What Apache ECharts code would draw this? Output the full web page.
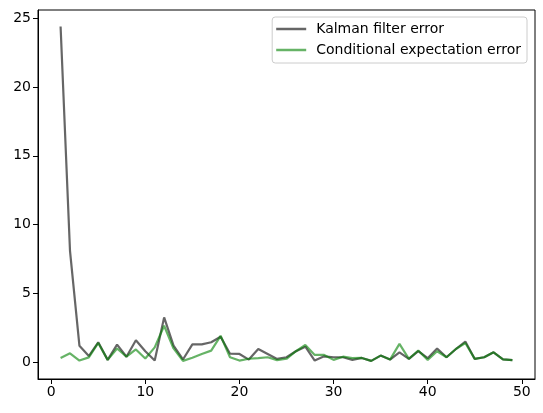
<!DOCTYPE html>
<html>
<head>
<meta charset="utf-8">
<script src="https://cdn.jsdelivr.net/npm/echarts@6/dist/echarts.min.js"></script>
<style>
  html, body { margin: 0; padding: 0; background: #fff; }
  #chart { width: 543px; height: 413px; }
</style>
</head>
<body>
<div id="chart"></div>
<script>
// step index 1..49
var steps = [];
for (var i = 1; i <= 49; i++) steps.push(i);

var kalmanErr = [24.4, 8.1, 1.2, 0.45, 1.45, 0.17, 1.28, 0.4, 1.6, 0.8,
  0.12, 3.26, 1.2, 0.2, 1.3, 1.3, 1.45, 1.85, 0.62, 0.6,
  0.19, 0.96, 0.6, 0.24, 0.36, 0.8, 1.13, 0.12, 0.43, 0.36,
  0.36, 0.17, 0.31, 0.1, 0.48, 0.19, 0.72, 0.24, 0.8, 0.29,
  1.0, 0.36, 0.96, 1.5, 0.24, 0.36, 0.72, 0.2, 0.15];

var condErr = [0.31, 0.65, 0.12, 0.35, 1.4, 0.17, 1.0, 0.4, 0.93, 0.27,
  1.08, 2.65, 1.0, 0.1, 0.33, 0.6, 0.84, 1.92, 0.36, 0.12,
  0.25, 0.3, 0.36, 0.15, 0.25, 0.8, 1.25, 0.53, 0.53, 0.17,
  0.4, 0.3, 0.31, 0.1, 0.48, 0.19, 1.33, 0.24, 0.85, 0.17,
  0.8, 0.36, 0.96, 1.4, 0.24, 0.36, 0.72, 0.2, 0.15];

var xTicks = [0, 10, 20, 30, 40, 50];
var yTicks = [0, 5, 10, 15, 20, 25];

function pairs(ys) {
  return steps.map(function (x, k) { return [x, ys[k]]; });
}

var chart = echarts.init(document.getElementById('chart'), null, { renderer: 'canvas' });

var tickFont = { fontFamily: 'DejaVu Sans', fontSize: 14, color: '#000' };
var legendIcon = 'path://M0,0 L30,0 L30,2.5 L0,2.5 Z';

chart.setOption({
  animation: false,
  grid: {
    left: 38, right: 8, top: 10, bottom: 34,
    show: true, borderColor: '#000', borderWidth: 1, backgroundColor: 'transparent'
  },
  legend: {
    orient: 'vertical',
    right: 16, top: 17,
    padding: [5, 6, 6, 4],
    itemGap: 7,
    itemWidth: 30, itemHeight: 15,
    backgroundColor: 'rgba(255,255,255,0.8)',
    borderColor: '#ccc', borderWidth: 1, borderRadius: 3,
    textStyle: { fontFamily: 'DejaVu Sans', fontSize: 14, color: '#000', padding: [0, 0, 0, 5] },
    data: [
      { name: 'Kalman filter error', icon: legendIcon, itemStyle: { color: '#666' } },
      { name: 'Conditional expectation error', icon: legendIcon, itemStyle: { color: '#66b366' } }
    ]
  },
  xAxis: {
    type: 'value',
    min: -1.4, max: 51.4,
    splitLine: { show: false },
    axisLine: { onZero: false, lineStyle: { color: '#000' } },
    axisTick: { customValues: xTicks, length: 5, lineStyle: { color: '#000' } },
    axisLabel: Object.assign({ customValues: xTicks, margin: 6 }, tickFont)
  },
  yAxis: {
    type: 'value',
    min: -1.22, max: 25.6,
    splitLine: { show: false },
    axisLine: { show: true, onZero: false, lineStyle: { color: '#000' } },
    axisTick: { show: true, customValues: yTicks, length: 5, lineStyle: { color: '#000' } },
    axisLabel: Object.assign({ customValues: yTicks, margin: 7 }, tickFont)
  },
  series: [
    {
      name: 'Kalman filter error',
      type: 'line',
      data: pairs(kalmanErr),
      showSymbol: false,
      color: 'rgba(0,0,0,0.6)',
      lineStyle: { width: 2.2, color: 'rgba(0,0,0,0.6)' }
    },
    {
      name: 'Conditional expectation error',
      type: 'line',
      data: pairs(condErr),
      showSymbol: false,
      color: 'rgba(0,128,0,0.6)',
      lineStyle: { width: 2.2, color: 'rgba(0,128,0,0.6)' }
    }
  ]
});
</script>
</body>
</html>
